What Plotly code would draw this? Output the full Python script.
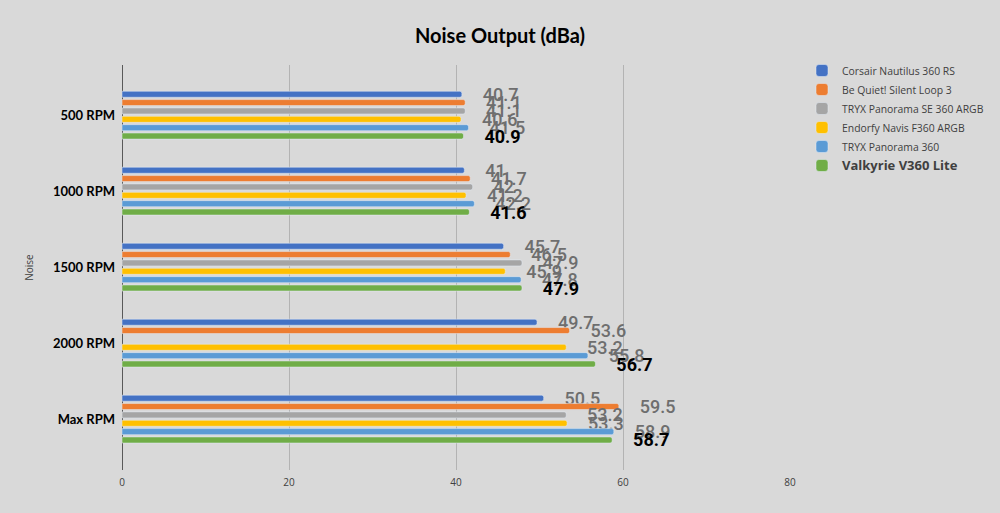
import plotly.graph_objects as go

categories = ["500 RPM", "1000 RPM", "1500 RPM", "2000 RPM", "Max RPM"]
series_names = [
    "Corsair Nautilus 360 RS",
    "Be Quiet! Silent Loop 3",
    "TRYX Panorama SE 360 ARGB",
    "Endorfy Navis F360 ARGB",
    "TRYX Panorama 360",
    "Valkyrie V360 Lite",
]
corsair = [40.7, 41.0, 45.7, 49.7, 50.5]
bequiet = [41.1, 41.7, 46.5, 53.6, 59.5]
tryx_se = [41.1, 42.0, 47.9, None, 53.2]
endorfy = [40.6, 41.2, 45.9, 53.2, 53.3]
tryx = [41.5, 42.2, 47.8, 55.8, 58.9]
valkyrie = [40.9, 41.6, 47.9, 56.7, 58.7]
x_ticks = [0, 20, 40, 60, 80]

series_values = [corsair, bequiet, tryx_se, endorfy, tryx, valkyrie]
colors = ["#4472c4", "#ed7d31", "#a5a5a5", "#ffc000", "#5b9bd5", "#70ad47"]

pad = "\u00a0" * 4
fig = go.Figure()
for i, (name, vals, col) in enumerate(zip(series_names, series_values, colors)):
    last = i == len(series_names) - 1
    fig.add_trace(go.Bar(
        y=categories,
        x=vals,
        orientation="h",
        name=("<b><span style='font-size:13px'>%s</span></b>" % name) if last else name,
        marker=dict(color=col, cornerradius=2),
        text=[None if v is None else ("%g" % v) for v in vals],
        texttemplate=pad + "%{text}",
        textposition="outside",
        constraintext="none",
        cliponaxis=False,
        textfont=dict(
            family="Roboto",
            size=18,
            color="#000000" if last else "#6e6e6e",
            weight="bold" if last else 500,
        ),
    ))

fig.update_layout(
    width=1000,
    height=513,
    paper_bgcolor="#d9d9d9",
    plot_bgcolor="#d9d9d9",
    barmode="group",
    bargap=0.34,
    bargroupgap=0.28,
    margin=dict(l=122, r=210, t=65, b=43, autoexpand=False),
    title=dict(
        text="<b>Noise Output (dBa)</b>",
        x=0.5, xref="container", xanchor="center",
        y=1 - 36 / 513, yref="container", yanchor="middle",
        font=dict(family="Lato", size=20, color="#000000"),
    ),
    font=dict(family="Lato", color="#404040"),
    legend=dict(
        x=0.802, xref="container", xanchor="left",
        y=1 - 56 / 513, yref="container", yanchor="top",
        traceorder="normal",
        font=dict(family="Open Sans", size=10.4, color="#404040"),
        itemwidth=30,
        bgcolor="rgba(0,0,0,0)",
    ),
    xaxis=dict(
        range=[0, 80],
        tickvals=x_ticks,
        showgrid=True,
        gridcolor="#b3b3b3",
        gridwidth=1,
        zeroline=True,
        zerolinecolor="#595959",
        zerolinewidth=1,
        tickfont=dict(family="Open Sans", size=10, color="#404040"),
        ticks="",
        ticklabelstandoff=5,
        showline=False,
    ),
    yaxis=dict(
        categoryorder="array",
        categoryarray=categories,
        range=[4.67, -0.66],
        title=dict(text="Noise", font=dict(family="Open Sans", size=10, color="#404040"), standoff=17),
        tickfont=dict(family="Lato", size=13, color="#000000", weight="bold"),
        ticklabelstandoff=6,
        showgrid=False,
        zeroline=False,
        showline=False,
        ticks="",
    ),
)

fig.write_html("out.html")
